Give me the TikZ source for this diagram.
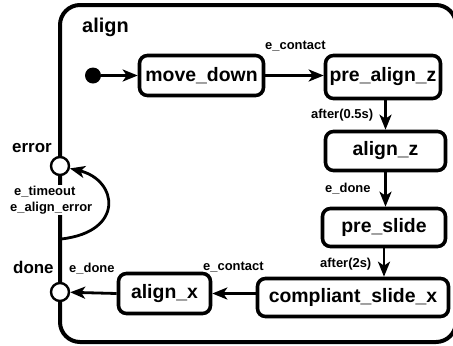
\documentclass[tikz,border=0pt]{standalone}
\usepackage{fontspec}
\setmainfont{Liberation Sans}
\usetikzlibrary{arrows.meta}
\begin{document}
\begin{tikzpicture}[x=1bp,y=-1bp,
  state/.style={draw, line width=3.6bp, rounded corners=8bp, inner sep=0,
    font=\fontsize{19.5}{20}\selectfont\bfseries},
  lbl/.style={inner sep=0, anchor=base west, font=\fontsize{13}{14}\selectfont\bfseries},
  biglbl/.style={inner sep=0, anchor=base west, font=\fontsize{17}{18}\selectfont\bfseries},
  conn/.style={line width=2.8bp, -{Stealth[length=15bp,width=12bp,inset=4bp]}},
  pseudo/.style={circle, draw, fill=white, line width=2.4bp, minimum size=18bp, inner sep=0},
  frame/.style={draw, line width=4bp, rounded corners=20bp}]
\useasboundingbox (0,0) rectangle (453,345);
% outer composite state
\draw[frame] (60,5) rectangle (456,342);
\node[inner sep=0, anchor=base west, font=\fontsize{20}{21}\selectfont\bfseries] (title) at (82,32) {align};
% states
\node[state, minimum width=124bp, minimum height=40bp] (move_down) at (201.5,75.5) {move\_down};
\node[state, minimum width=115bp, minimum height=43bp] (pre_align_z) at (383,77) {pre\_align\_z};
\node[state, minimum width=120bp, minimum height=39bp] (align_z) at (385.5,151) {align\_z};
\node[state, minimum width=123bp, minimum height=38bp] (pre_slide) at (384,227.5) {pre\_slide};
\node[state, minimum width=191bp, minimum height=38bp] (compliant_slide_x) at (353,297.5) {compliant\_slide\_x};
\node[state, minimum width=92bp, minimum height=40bp] (align_x) at (164.5,293.5) {align\_x};
% initial
\node[circle, fill, minimum size=16bp, inner sep=0] (init) at (93,75.5) {};
% error/timeout label on the frame
\node[inner sep=1bp, fill=white, align=left, anchor=north west,
  font=\fontsize{13}{15.5}\selectfont\bfseries] (errlbl) at (9,185) {\hspace*{4bp}e\_timeout\\e\_align\_error};
% exit points
\node[pseudo] (err) at (60,166) {};
\node[pseudo] (done) at (60,292) {};
\coordinate (src) at (61,239);
% transitions
\draw[conn] (init) -- (move_down);
\draw[conn] (move_down.east) -- (move_down.east -| pre_align_z.west);
\draw[conn] (pre_align_z.south -| align_z.north) -- (align_z.north);
\draw[conn] (align_z.south) -- (align_z.south |- pre_slide.north);
\draw[conn] (pre_slide.south) -- (pre_slide.south |- compliant_slide_x.north);
\draw[conn] (compliant_slide_x.west |- align_x.east) -- (align_x.east);
\draw[conn] (align_x.west) -- (done);
\draw[conn] (src) .. controls (125,232) and (118,180) .. (err);
% transition labels
\node[lbl] (l1) at (265,49) {e\_contact};
\node[lbl] (l2) at (311,118) {after(0.5s)};
\node[lbl] (l3) at (325,192) {e\_done};
\node[lbl] (l4) at (320,267) {after(2s)};
\node[lbl] (l5) at (203,270) {e\_contact};
\node[lbl] (l6) at (69,272) {e\_done};
\node[biglbl] (lerr) at (12,152) {error};
\node[biglbl] (ldone) at (13,273) {done};
\end{tikzpicture}
\end{document}
